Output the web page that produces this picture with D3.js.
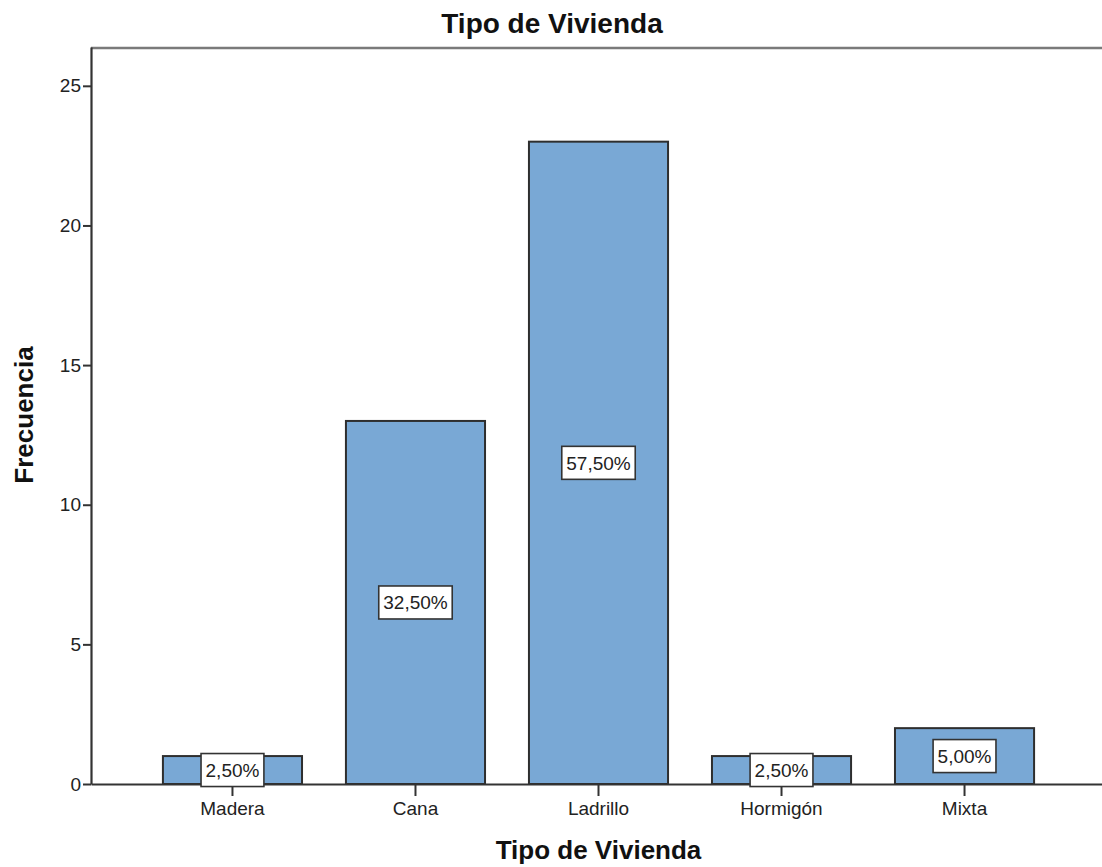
<!DOCTYPE html>
<html>
<head>
<meta charset="utf-8">
<script src="https://cdn.jsdelivr.net/npm/d3@7"></script>
<style>
  body { margin: 0; background: #fff; }
  svg { display: block; }
  text { font-family: "Liberation Sans", Arial, sans-serif; }
</style>
</head>
<body>
<svg id="chart" width="1102" height="867"></svg>
<script>
const categories = ["Madera", "Cana", "Ladrillo", "Hormigón", "Mixta"];
const frequencies = [1, 13, 23, 1, 2];
const percentLabels = ["2,50%", "32,50%", "57,50%", "2,50%", "5,00%"];
const yTicks = [0, 5, 10, 15, 20, 25];
const chartTitle = "Tipo de Vivienda";
const xTitle = "Tipo de Vivienda";
const yTitle = "Frecuencia";

(function () {
const svg = d3.select("#chart");
const pLeft = 91, pRight = 1106, pTop = 47, pBottom = 784;

const x = d3.scaleBand().domain(categories).range([pLeft, pRight])
  .paddingInner(0.24).paddingOuter(0.393);
const y = d3.scaleLinear().domain([0, 26.39]).range([pBottom, pTop]);

// top border
svg.append("line").attr("x1", pLeft).attr("x2", 1102).attr("y1", pTop + 1).attr("y2", pTop + 1)
  .attr("stroke", "#7a7a7a").attr("stroke-width", 2.5);

// bars
svg.append("g").selectAll("rect").data(categories).join("rect")
  .attr("x", d => x(d))
  .attr("y", (d, i) => y(frequencies[i]))
  .attr("width", x.bandwidth())
  .attr("height", (d, i) => y(0) - y(frequencies[i]))
  .attr("fill", "#79a8d5")
  .attr("stroke", "#2e2e2e")
  .attr("stroke-width", 2);

// y axis
const yAxis = svg.append("g").attr("transform", `translate(${pLeft},0)`)
  .call(d3.axisLeft(y).tickValues(yTicks).tickSize(8).tickSizeOuter(0).tickPadding(2).tickFormat(d3.format("d")));
yAxis.select(".domain").attr("stroke", "#333").attr("stroke-width", 2.2);
yAxis.selectAll(".tick line").attr("stroke", "#333").attr("stroke-width", 2);
yAxis.selectAll(".tick text").attr("font-size", 19).attr("fill", "#222")
  .attr("font-family", "Liberation Sans, Arial, sans-serif");

// x axis
const xAxis = svg.append("g").attr("transform", `translate(0,${pBottom})`)
  .call(d3.axisBottom(x).tickSize(12).tickSizeOuter(0).tickPadding(6));
xAxis.select(".domain").attr("stroke", "#333").attr("stroke-width", 2);
xAxis.selectAll(".tick line").attr("stroke", "#333").attr("stroke-width", 2);
xAxis.selectAll(".tick text").attr("font-size", 19).attr("fill", "#222")
  .attr("font-family", "Liberation Sans, Arial, sans-serif");

// percentage labels
const lab = svg.append("g").selectAll("g").data(categories).join("g")
  .attr("transform", (d, i) => `translate(${x(d) + x.bandwidth() / 2},${y(frequencies[i] / 2)})`);
lab.each(function (d, i) {
  const g = d3.select(this);
  const t = g.append("text").text(percentLabels[i])
    .attr("font-size", 19).attr("fill", "#222")
    .attr("text-anchor", "middle").attr("dy", "0.36em");
  const w = t.node().getComputedTextLength() + 9;
  g.insert("rect", "text")
    .attr("x", -w / 2).attr("y", -16.5).attr("width", w).attr("height", 33)
    .attr("fill", "#fff").attr("stroke", "#333").attr("stroke-width", 1.6);
});

// titles
svg.append("text").attr("x", 552).attr("y", 33).attr("text-anchor", "middle")
  .attr("font-size", 28).attr("font-weight", "bold").attr("fill", "#111").text(chartTitle);
svg.append("text").attr("x", (pLeft + pRight) / 2).attr("y", 859).attr("text-anchor", "middle")
  .attr("font-size", 26).attr("font-weight", "bold").attr("fill", "#111").text(xTitle);
svg.append("text").attr("transform", "translate(33,415) rotate(-90)").attr("text-anchor", "middle")
  .attr("font-size", 26).attr("font-weight", "bold").attr("fill", "#111").text(yTitle);
})();
</script>
</body>
</html>
